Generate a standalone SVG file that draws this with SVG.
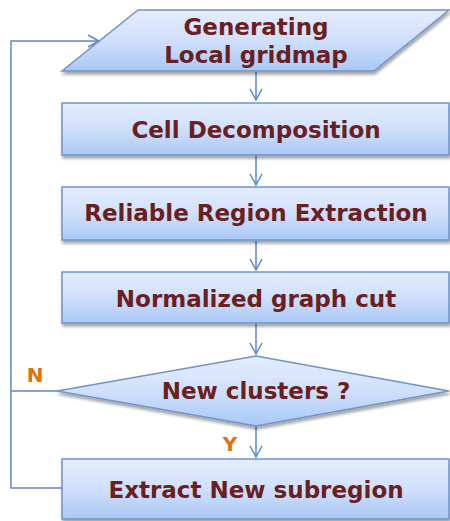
<svg xmlns="http://www.w3.org/2000/svg" width="450" height="521" viewBox="0 0 450 521">
  <style>
    .shape { fill: url(#boxFill); stroke: #6f93c9; stroke-width: 1.5; filter: url(#shadow); }
    .label { font-family: "DejaVu Sans", Verdana, sans-serif; font-weight: bold; font-size: 23px; fill: #6a2020; text-anchor: middle; }
    .branch { font-family: "DejaVu Sans", Verdana, sans-serif; font-weight: bold; font-size: 20px; fill: #e3700f; text-anchor: middle; }
    .edge { fill: none; stroke: #5b89c4; stroke-width: 1.5; }
  </style>
  <defs>
    <linearGradient id="boxFill" x1="0" y1="0" x2="0" y2="1">
      <stop offset="0" stop-color="#e4edfc"/>
      <stop offset="0.5" stop-color="#d0e0fb"/>
      <stop offset="1" stop-color="#a9c8f6"/>
    </linearGradient>
    <filter id="shadow" x="-5%" y="-10%" width="115%" height="130%">
      <feGaussianBlur in="SourceAlpha" stdDeviation="1.5"/>
      <feOffset dx="1" dy="2.5" result="off"/>
      <feComponentTransfer><feFuncA type="linear" slope="0.35"/></feComponentTransfer>
      <feMerge><feMergeNode/><feMergeNode in="SourceGraphic"/></feMerge>
    </filter>
    <marker id="arrow" viewBox="0 0 14 14" refX="12" refY="7" markerWidth="14" markerHeight="14" markerUnits="userSpaceOnUse" orient="auto">
      <path d="M1,1 L12,7 L1,13" fill="none" stroke="#5b89c4" stroke-width="1.5"/>
    </marker>
  </defs>

  <g id="connectors">
    <line class="edge" x1="256" y1="72" x2="256" y2="100" marker-end="url(#arrow)"/>
    <line class="edge" x1="256" y1="156" x2="256" y2="185" marker-end="url(#arrow)"/>
    <line class="edge" x1="256" y1="241" x2="256" y2="270" marker-end="url(#arrow)"/>
    <line class="edge" x1="256" y1="324" x2="256" y2="354" marker-end="url(#arrow)"/>
    <line class="edge" x1="256" y1="426" x2="256" y2="457" marker-end="url(#arrow)"/>
    <polyline class="edge" points="57,391 11,391"/>
    <polyline class="edge" points="62,488 11,488 11,41 99,41" marker-end="url(#arrow)"/>
    <text class="branch" x="35" y="382">N</text>
    <text class="branch" x="230" y="451">Y</text>
  </g>

  <g id="generate-gridmap">
    <polygon class="shape" points="138,10 449,10 374,71 62,71"/>
    <text class="label" x="256" y="35">Generating</text>
    <text class="label" x="256" y="63">Local gridmap</text>
  </g>

  <g id="cell-decomposition">
    <rect class="shape" x="62" y="103" width="387" height="52"/>
    <text class="label" x="256" y="138">Cell Decomposition</text>
  </g>

  <g id="reliable-region">
    <rect class="shape" x="62" y="187" width="387" height="53"/>
    <text class="label" x="256" y="221">Reliable Region Extraction</text>
  </g>

  <g id="graph-cut">
    <rect class="shape" x="62" y="272" width="387" height="51"/>
    <text class="label" x="256" y="307">Normalized graph cut</text>
  </g>

  <g id="new-clusters">
    <polygon class="shape" points="256,356 449,391 256,426 57,391"/>
    <text class="label" x="256" y="399">New clusters ?</text>
  </g>

  <g id="extract-subregion">
    <rect class="shape" x="62" y="459" width="387" height="60"/>
    <text class="label" x="256" y="498">Extract New subregion</text>
  </g>
</svg>
